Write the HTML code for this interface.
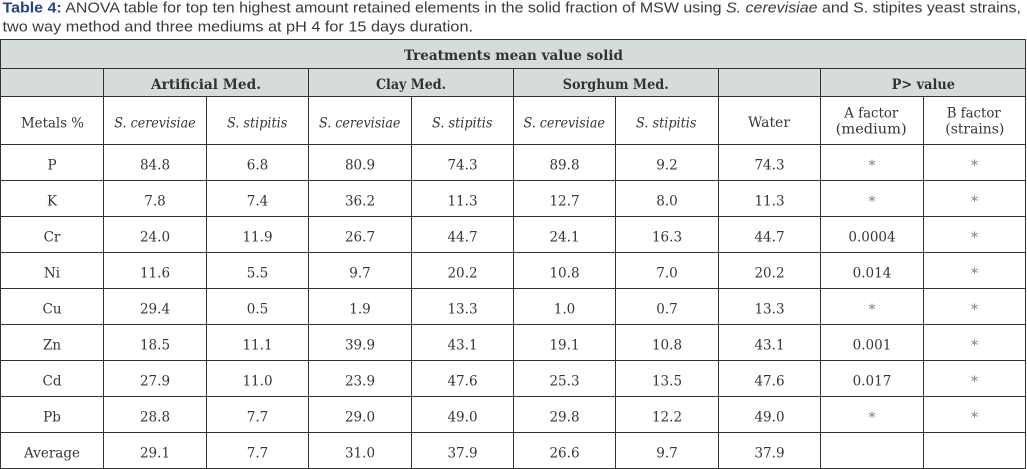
<!DOCTYPE html>
<html>
<head>
<meta charset="utf-8">
<style>
  html, body { margin:0; padding:0; background:#ffffff; }
  body { width:1027px; height:469px; overflow:hidden; }
  svg { display:block; }
  .cap { font-family:"Liberation Sans", Arial, sans-serif; font-size:14.5px; fill:#3a3a3a; }
  .capb { font-weight:bold; fill:#22418f; }
  .t { font-family:"DejaVu Serif", "Liberation Serif", serif; font-size:13.5px; fill:#363636; text-anchor:middle; }
  .h { font-family:"DejaVu Serif", "Liberation Serif", serif; font-size:13.5px; fill:#333; font-weight:bold; }
  .hs { font-family:"DejaVu Serif", "Liberation Serif", serif; font-size:13.5px; fill:#363636; }
  .it { font-style:italic; }
  .ast { font-family:"DejaVu Serif", "Liberation Serif", serif; font-size:14px; fill:#7a7a7a; text-anchor:middle; }
</style>
</head>
<body>
<svg width="1027" height="469" viewBox="0 0 1027 469" xmlns="http://www.w3.org/2000/svg">
  <!-- Caption -->
  <text class="cap" x="2.5" y="12.5" textLength="1018.5" lengthAdjust="spacingAndGlyphs"><tspan class="capb">Table 4:</tspan> ANOVA table for top ten highest amount retained elements in the solid fraction of MSW using <tspan font-style="italic">S. cerevisiae</tspan> and S. stipites yeast strains,</text>
  <text class="cap" x="2.5" y="31.5" textLength="470.5" lengthAdjust="spacingAndGlyphs">two way method and three mediums at pH 4 for 15 days duration.</text>

  <!-- Header backgrounds -->
  <rect x="0" y="39" width="1026" height="58" fill="#d6dcdb"/>

  <!-- Grid lines -->
  <g stroke="#333" stroke-width="1" fill="none" shape-rendering="crispEdges">
    <line x1="0" y1="39.5" x2="1026" y2="39.5"/>
    <line x1="0" y1="68.5" x2="1026" y2="68.5"/>
    <line x1="0" y1="96.5" x2="1026" y2="96.5"/>
    <line x1="0" y1="144.5" x2="1026" y2="144.5"/>
    <line x1="0" y1="180.5" x2="1026" y2="180.5"/>
    <line x1="0" y1="216.5" x2="1026" y2="216.5"/>
    <line x1="0" y1="252.5" x2="1026" y2="252.5"/>
    <line x1="0" y1="288.5" x2="1026" y2="288.5"/>
    <line x1="0" y1="324.5" x2="1026" y2="324.5"/>
    <line x1="0" y1="360.5" x2="1026" y2="360.5"/>
    <line x1="0" y1="396.5" x2="1026" y2="396.5"/>
    <line x1="0" y1="432.5" x2="1026" y2="432.5"/>
    <line x1="0" y1="468.5" x2="1026" y2="468.5"/>

    <line x1="0.5" y1="39" x2="0.5" y2="469"/>
    <line x1="1025.5" y1="39" x2="1025.5" y2="469"/>

    <line x1="103.5" y1="68.5" x2="103.5" y2="468.5"/>
    <line x1="308.5" y1="68.5" x2="308.5" y2="468.5"/>
    <line x1="513.5" y1="68.5" x2="513.5" y2="468.5"/>
    <line x1="718.5" y1="68.5" x2="718.5" y2="468.5"/>
    <line x1="820.5" y1="68.5" x2="820.5" y2="468.5"/>

    <line x1="206.5" y1="96.5" x2="206.5" y2="468.5"/>
    <line x1="411.5" y1="96.5" x2="411.5" y2="468.5"/>
    <line x1="615.5" y1="96.5" x2="615.5" y2="468.5"/>
    <line x1="923.5" y1="96.5" x2="923.5" y2="468.5"/>
  </g>

  <!-- Header row 1 -->
  <text class="h" x="404" y="60" textLength="219" lengthAdjust="spacingAndGlyphs">Treatments  mean value solid</text>

  <!-- Header row 2 -->
  <text class="h" x="151" y="89" textLength="110" lengthAdjust="spacingAndGlyphs">Artificial  Med.</text>
  <text class="h" x="376" y="89" textLength="70" lengthAdjust="spacingAndGlyphs">Clay Med.</text>
  <text class="h" x="562.7" y="89" textLength="106" lengthAdjust="spacingAndGlyphs">Sorghum Med.</text>
  <text class="h" x="891.7" y="89" textLength="63.3" lengthAdjust="spacingAndGlyphs">P&gt; value</text>

  <!-- Header row 3 -->
  <text class="hs" x="21" y="127.7" textLength="63" lengthAdjust="spacingAndGlyphs">Metals %</text>
  <text class="hs it" x="114.3" y="127.7" textLength="81.4" lengthAdjust="spacingAndGlyphs">S. cerevisiae</text>
  <text class="hs it" x="227" y="127.7" textLength="60.3" lengthAdjust="spacingAndGlyphs">S. stipitis</text>
  <text class="hs it" x="319" y="127.7" textLength="81.4" lengthAdjust="spacingAndGlyphs">S. cerevisiae</text>
  <text class="hs it" x="432" y="127.7" textLength="60.5" lengthAdjust="spacingAndGlyphs">S. stipitis</text>
  <text class="hs it" x="523.5" y="127.7" textLength="81.4" lengthAdjust="spacingAndGlyphs">S. cerevisiae</text>
  <text class="hs it" x="636" y="127.7" textLength="60.5" lengthAdjust="spacingAndGlyphs">S. stipitis</text>
  <text class="hs" x="748" y="127.2" textLength="42" lengthAdjust="spacingAndGlyphs">Water</text>
  <text class="hs" x="844.3" y="117.5" textLength="54" lengthAdjust="spacingAndGlyphs">A factor</text>
  <text class="hs" x="835.7" y="133.5" textLength="71" lengthAdjust="spacingAndGlyphs">(medium)</text>
  <text class="hs" x="946.7" y="117.5" textLength="54" lengthAdjust="spacingAndGlyphs">B factor</text>
  <text class="hs" x="945.3" y="133.5" textLength="59" lengthAdjust="spacingAndGlyphs">(strains)</text>

  <!-- Data rows -->
  <g class="t">
    <!-- P -->
    <text x="52" y="169.3">P</text>
    <text x="155" y="169.3">84.8</text>
    <text x="257.5" y="169.3">6.8</text>
    <text x="360" y="169.3">80.9</text>
    <text x="462.5" y="169.3">74.3</text>
    <text x="564.5" y="169.3">89.8</text>
    <text x="667" y="169.3">9.2</text>
    <text x="769.5" y="169.3">74.3</text>
    <!-- K -->
    <text x="52" y="205.3">K</text>
    <text x="155" y="205.3">7.8</text>
    <text x="257.5" y="205.3">7.4</text>
    <text x="360" y="205.3">36.2</text>
    <text x="462.5" y="205.3">11.3</text>
    <text x="564.5" y="205.3">12.7</text>
    <text x="667" y="205.3">8.0</text>
    <text x="769.5" y="205.3">11.3</text>
    <!-- Cr -->
    <text x="52" y="241.3">Cr</text>
    <text x="155" y="241.3">24.0</text>
    <text x="257.5" y="241.3">11.9</text>
    <text x="360" y="241.3">26.7</text>
    <text x="462.5" y="241.3">44.7</text>
    <text x="564.5" y="241.3">24.1</text>
    <text x="667" y="241.3">16.3</text>
    <text x="769.5" y="241.3">44.7</text>
    <text x="872" y="241.3">0.0004</text>
    <!-- Ni -->
    <text x="52" y="277.3">Ni</text>
    <text x="155" y="277.3">11.6</text>
    <text x="257.5" y="277.3">5.5</text>
    <text x="360" y="277.3">9.7</text>
    <text x="462.5" y="277.3">20.2</text>
    <text x="564.5" y="277.3">10.8</text>
    <text x="667" y="277.3">7.0</text>
    <text x="769.5" y="277.3">20.2</text>
    <text x="872" y="277.3">0.014</text>
    <!-- Cu -->
    <text x="52" y="313.3">Cu</text>
    <text x="155" y="313.3">29.4</text>
    <text x="257.5" y="313.3">0.5</text>
    <text x="360" y="313.3">1.9</text>
    <text x="462.5" y="313.3">13.3</text>
    <text x="564.5" y="313.3">1.0</text>
    <text x="667" y="313.3">0.7</text>
    <text x="769.5" y="313.3">13.3</text>
    <!-- Zn -->
    <text x="52" y="349.3">Zn</text>
    <text x="155" y="349.3">18.5</text>
    <text x="257.5" y="349.3">11.1</text>
    <text x="360" y="349.3">39.9</text>
    <text x="462.5" y="349.3">43.1</text>
    <text x="564.5" y="349.3">19.1</text>
    <text x="667" y="349.3">10.8</text>
    <text x="769.5" y="349.3">43.1</text>
    <text x="872" y="349.3">0.001</text>
    <!-- Cd -->
    <text x="52" y="385.3">Cd</text>
    <text x="155" y="385.3">27.9</text>
    <text x="257.5" y="385.3">11.0</text>
    <text x="360" y="385.3">23.9</text>
    <text x="462.5" y="385.3">47.6</text>
    <text x="564.5" y="385.3">25.3</text>
    <text x="667" y="385.3">13.5</text>
    <text x="769.5" y="385.3">47.6</text>
    <text x="872" y="385.3">0.017</text>
    <!-- Pb -->
    <text x="52" y="421.3">Pb</text>
    <text x="155" y="421.3">28.8</text>
    <text x="257.5" y="421.3">7.7</text>
    <text x="360" y="421.3">29.0</text>
    <text x="462.5" y="421.3">49.0</text>
    <text x="564.5" y="421.3">29.8</text>
    <text x="667" y="421.3">12.2</text>
    <text x="769.5" y="421.3">49.0</text>
    <!-- Average -->
    <text x="52" y="457.3">Average</text>
    <text x="155" y="457.3">29.1</text>
    <text x="257.5" y="457.3">7.7</text>
    <text x="360" y="457.3">31.0</text>
    <text x="462.5" y="457.3">37.9</text>
    <text x="564.5" y="457.3">26.6</text>
    <text x="667" y="457.3">9.7</text>
    <text x="769.5" y="457.3">37.9</text>
  </g>

  <!-- Asterisks -->
  <g class="ast">
    <text x="872" y="169.8">*</text>
    <text x="974.5" y="169.8">*</text>
    <text x="872" y="205.8">*</text>
    <text x="974.5" y="205.8">*</text>
    <text x="974.5" y="241.8">*</text>
    <text x="974.5" y="277.8">*</text>
    <text x="872" y="313.8">*</text>
    <text x="974.5" y="313.8">*</text>
    <text x="974.5" y="349.8">*</text>
    <text x="974.5" y="385.8">*</text>
    <text x="872" y="421.8">*</text>
    <text x="974.5" y="421.8">*</text>
  </g>
</svg>
</body>
</html>
